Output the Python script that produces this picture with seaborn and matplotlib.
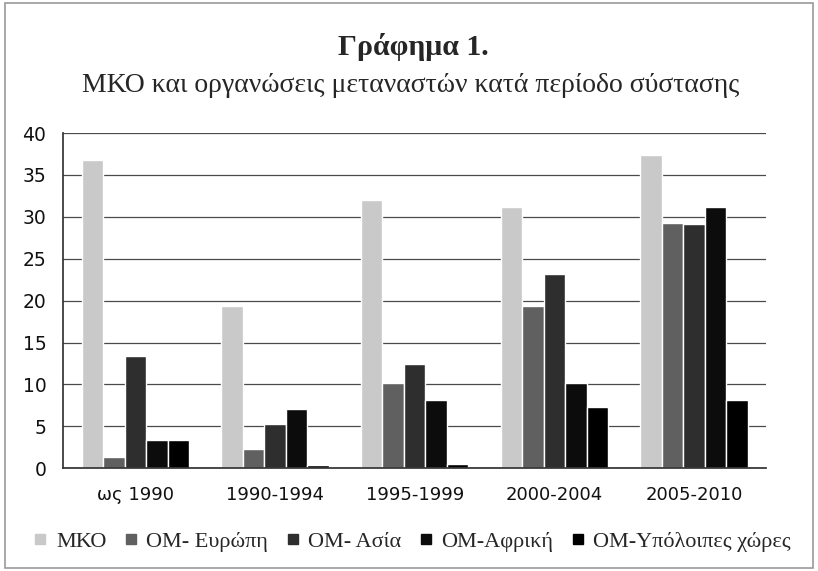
import pandas as pd
import numpy as np
import matplotlib.pyplot as plt
import seaborn as sns
from matplotlib.patches import Rectangle
from matplotlib.lines import Line2D

# Δεδομένα (εκτίμηση από το γράφημα)
periodoi = ['ως 1990', '1990-1994', '1995-1999', '2000-2004', '2005-2010']
seires = ['ΜΚΟ', 'ΟΜ- Ευρώπη', 'ΟΜ- Ασία', 'ΟΜ-Αφρική', 'ΟΜ-Υπόλοιπες χώρες']
mko = [36.8, 19.4, 32.0, 31.2, 37.4]
om_europi = [1.3, 2.3, 10.2, 19.4, 29.3]
om_asia = [13.4, 5.3, 12.4, 23.2, 29.1]
om_afriki = [3.4, 7.1, 8.2, 10.2, 31.2]
om_ypoloipes = [3.4, 0.4, 0.5, 7.3, 8.1]
xromata = ['#c9c9c9', '#606060', '#2e2e2e', '#0c0c0c', '#000000']

sns.set_theme(style="white")
plt.rcParams['font.family'] = ['DejaVu Sans']

df = pd.DataFrame({
    'Περίοδος': np.repeat(periodoi, len(seires)),
    'Σειρά': seires * len(periodoi),
    'Τιμή': np.array([mko, om_europi, om_asia, om_afriki, om_ypoloipes]).T.ravel(),
})

fig = plt.figure(figsize=(8.18, 5.71), dpi=100)
ax = fig.add_axes([0.077, 0.18, 0.86, 0.587])

sns.barplot(data=df, x='Περίοδος', y='Τιμή', hue='Σειρά', hue_order=seires,
            palette=xromata, width=0.77, gap=0, saturation=1, legend=False, ax=ax)

ax.set_ylim(0, 40)
ax.set_yticks(range(0, 41, 5))
ax.set_xlim(-0.52, 4.52)
ax.yaxis.grid(True, color='#4a4a4a', linewidth=0.9)
ax.set_axisbelow(True)
ax.set_xlabel('')
ax.set_ylabel('')
for s in ['top', 'right']:
    ax.spines[s].set_visible(False)
ax.spines['left'].set_color('#333333')
ax.spines['bottom'].set_color('#333333')
ax.tick_params(axis='y', labelsize=13.5, colors='#111111', pad=6)
ax.tick_params(axis='x', labelsize=13, colors='#111111', pad=7)

# Τίτλοι
fig.text(0.505, 0.917, 'Γράφημα 1.', ha='center', va='center',
         fontsize=21.5, fontweight='bold', family='Liberation Serif')
fig.text(0.502, 0.85, 'ΜΚΟ και οργανώσεις μεταναστών κατά περίοδο σύστασης',
         ha='center', va='center', fontsize=20, family='Liberation Serif')

# Υπόμνημα
handles = [Line2D([], [], marker='s', linestyle='', markersize=7,
                  markerfacecolor=c, markeredgecolor=c) for c in xromata]
fig.legend(handles, seires, loc='center', bbox_to_anchor=(0.504, 0.051),
           ncol=5, frameon=False, prop={'family': 'Liberation Serif', 'size': 16},
           handlelength=0.6, handletextpad=0.4, columnspacing=0.8)

# Πλαίσιο
fig.patches.append(Rectangle((0.006, 0.005), 0.988, 0.99, transform=fig.transFigure,
                             fill=False, edgecolor='#9a9a9a', linewidth=1.2))

plt.savefig('out.png', dpi=100)
